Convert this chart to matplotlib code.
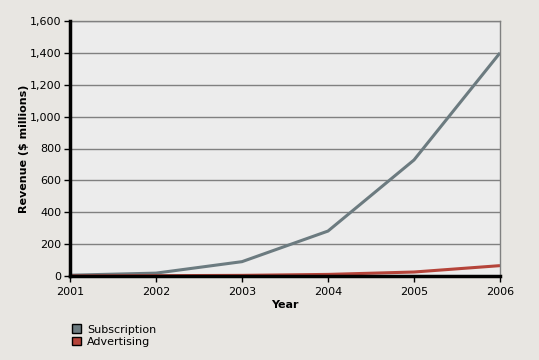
import matplotlib.pyplot as plt
from matplotlib.patches import Patch
from matplotlib.ticker import FuncFormatter

years = [2001, 2002, 2003, 2004, 2005, 2006]
subscription = [5, 18, 90, 282, 728, 1400]
advertising = [0, 2, 4, 10, 25, 65]

fig = plt.figure(figsize=(5.39, 3.6), dpi=100, facecolor="#E8E6E2")
ax = fig.add_axes([70 / 539, 84 / 360, 430 / 539, 255 / 360], facecolor="#ECECEC")

ax.plot(years, subscription, color="#6C7B80", linewidth=2.2, solid_capstyle="butt")
ax.plot(years, advertising, color="#B5443A", linewidth=2.2, solid_capstyle="butt")

ax.set_xlim(2001, 2006)
ax.set_ylim(0, 1600)
ax.set_xticks(years)
ax.set_yticks(range(0, 1601, 200))
ax.yaxis.set_major_formatter(FuncFormatter(lambda v, p: f"{int(v):,}"))
ax.grid(axis="y", color="#808080", linewidth=1.0)
ax.set_axisbelow(True)

for side in ("top", "right"):
    ax.spines[side].set_color("#808080")
    ax.spines[side].set_linewidth(1.0)
for side in ("left", "bottom"):
    ax.spines[side].set_color("black")
    ax.spines[side].set_linewidth(2.5)
    ax.spines[side].set_zorder(5)

ax.tick_params(axis="both", labelsize=8, length=4, width=1, color="black")
ax.tick_params(axis="x", pad=4)
ax.tick_params(axis="y", pad=2)
ax.set_xlabel("Year", fontsize=8, fontweight="bold", labelpad=2)
ax.set_ylabel("Revenue ($ millions)", fontsize=8, fontweight="bold", labelpad=1)

handles = [
    Patch(facecolor="#6C7B80", edgecolor="black", label="Subscription"),
    Patch(facecolor="#B5443A", edgecolor="black", label="Advertising"),
]
fig.legend(handles=handles, loc="upper left", bbox_to_anchor=(68 / 539, 1 - 320 / 360),
           frameon=False, fontsize=8, handlelength=0.8, handleheight=0.8,
           handletextpad=0.5, labelspacing=0.2, borderaxespad=0)

fig.savefig("out.png", dpi=100, facecolor=fig.get_facecolor())
